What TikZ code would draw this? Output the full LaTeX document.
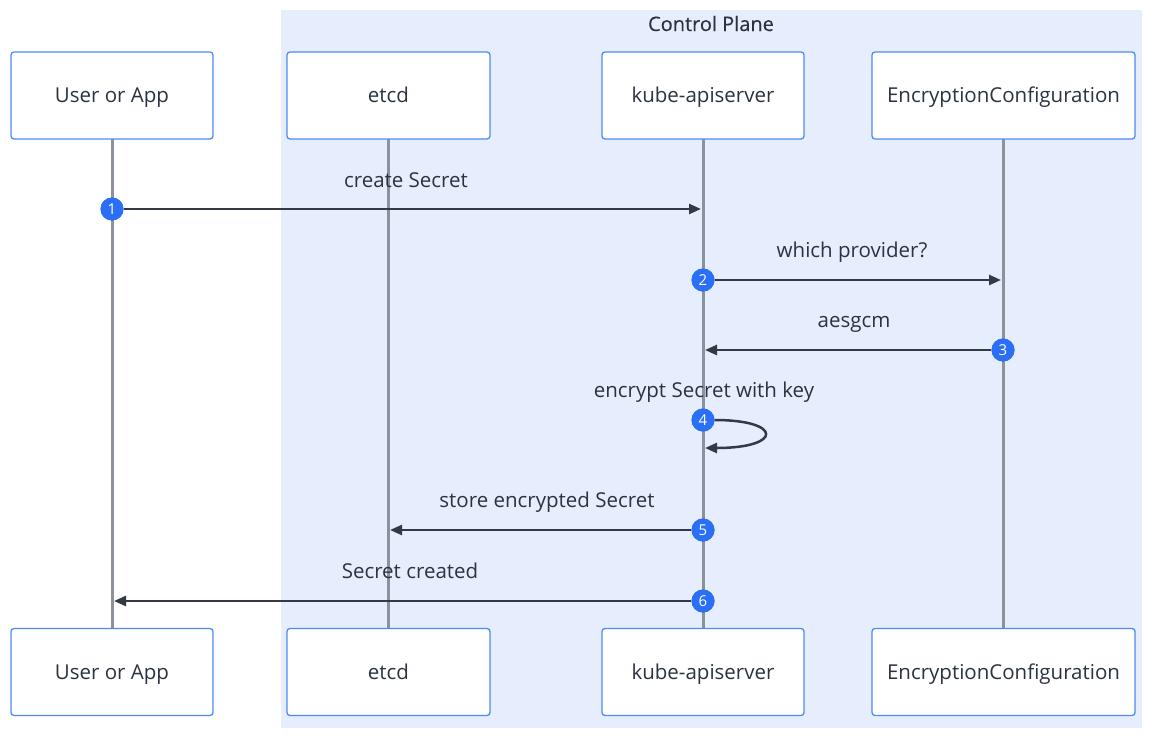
\documentclass[tikz,border=0pt]{standalone}
\usepackage{fontspec}
\setmainfont{Open Sans}
\usetikzlibrary{arrows.meta}
\definecolor{bgplane}{HTML}{E6EDFD}
\definecolor{boxline}{HTML}{4F8BF5}
\definecolor{txt}{HTML}{2B3340}
\definecolor{life}{HTML}{8C929C}
\definecolor{msg}{HTML}{333A45}
\definecolor{badge}{HTML}{2A6FF5}
\tikzset{
  actor/.style={draw=boxline, line width=1.3pt, fill=white, rounded corners=3pt,
    minimum height=87pt, text=txt, font=\fontsize{20.5}{22}\selectfont, inner sep=0pt,
    text height=14.6pt, text depth=0pt},
  lifeline/.style={draw=life, line width=3pt},
  msgline/.style={draw=msg, line width=2.5pt, -{Triangle[length=12pt,width=10pt]}},
  badgenode/.style={circle, fill=badge, text=white, minimum size=23pt, inner sep=0pt,
    font=\fontsize{15}{15}\selectfont, text height=10.7pt, text depth=0pt},
  msglabel/.style={text=txt, font=\fontsize{20.5}{22}\selectfont, inner sep=0pt, anchor=base}
}
\begin{document}
\begin{tikzpicture}[x=1pt,y=-1pt]
\useasboundingbox (0,0) rectangle (1154,739);
\fill[white] (0,0) rectangle (1154,739);
% control plane
\fill[bgplane] (281,10) rectangle (1142,728);
\node[text=txt, font=\fontsize{20}{22}\selectfont\addfontfeatures{FakeBold=0.25}, anchor=base, inner sep=0pt] (cp) at (711,31) {Control Plane};
% lifelines
\draw[lifeline] (112,139) -- (112,628);
\draw[lifeline] (388,139) -- (388,628);
\draw[lifeline] (703,139) -- (703,628);
\draw[lifeline] (1003,139) -- (1003,628);
% actor boxes
\node[actor, minimum width=202pt] (ut) at (112,95.5) {User or App};
\node[actor, minimum width=203pt] (et) at (388.5,95.5) {etcd};
\node[actor, minimum width=202pt] (kt) at (703,95.5) {kube-apiserver};
\node[actor, minimum width=263pt] (ct) at (1003.5,95.5) {EncryptionConfiguration};
\node[actor, minimum width=202pt] (ub) at (112,672) {User or App};
\node[actor, minimum width=203pt] (eb) at (388.5,672) {etcd};
\node[actor, minimum width=202pt] (kb) at (703,672) {kube-apiserver};
\node[actor, minimum width=263pt] (cb) at (1003.5,672) {EncryptionConfiguration};
% message endpoints
\coordinate (e1) at (701,209);
\coordinate (e2) at (1001,280);
\coordinate (e3) at (705,350);
\coordinate (e5) at (390,530);
\coordinate (e6) at (114,601);
\coordinate (e4) at (705,448);
% badges
\node[badgenode] (n1) at (112,209) {1};
\node[badgenode] (n2) at (703,280) {2};
\node[badgenode] (n3) at (1003,350) {3};
\node[badgenode] (n4) at (703,420) {4};
\node[badgenode] (n5) at (703,530) {5};
\node[badgenode] (n6) at (703,601) {6};
% messages
\draw[msgline] (n1) -- (e1);
\draw[msgline] (n2) -- (e2);
\draw[msgline] (n3) -- (e3);
\draw[msgline] (n4.east) .. controls (783,420) and (783,448) .. (e4);
\draw[msgline] (n5) -- (e5);
\draw[msgline] (n6) -- (e6);
% redraw badges on top
\node[badgenode] at (n1) {1};
\node[badgenode] at (n2) {2};
\node[badgenode] at (n3) {3};
\node[badgenode] at (n4) {4};
\node[badgenode] at (n5) {5};
\node[badgenode] at (n6) {6};
% labels
\node[msglabel] (t1) at (406,187) {create Secret};
\node[msglabel] (t2) at (852,257) {which provider?};
\node[msglabel] (t3) at (854,327) {aesgcm};
\node[msglabel] (t4) at (704,397) {encrypt Secret with key};
\node[msglabel] (t5) at (547,507) {store encrypted Secret};
\node[msglabel] (t6) at (410,578) {Secret created};
\end{tikzpicture}
\end{document}
